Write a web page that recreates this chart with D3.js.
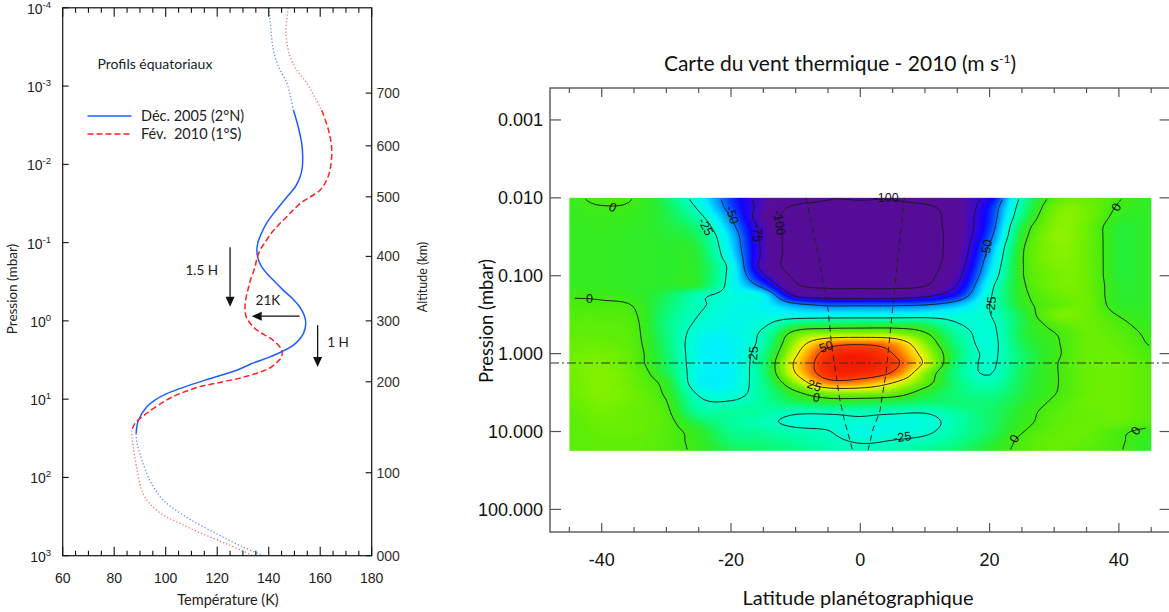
<!DOCTYPE html>
<html><head><meta charset="utf-8">
<script src="https://cdn.jsdelivr.net/npm/d3@7"></script>
<style>
html,body{margin:0;padding:0;background:#fff;}
svg{display:block;}
</style></head>
<body>
<svg id="chart" width="1169" height="612"></svg>
<script>
// ================= LEFT PANEL DATA =================
const tempTicks = [60, 80, 100, 120, 140, 160, 180];
const pressureDecadeExp = [-4, -3, -2, -1, 0, 1, 2, 3];
const altitudeLabels = ["000", "100", "200", "300", "400", "500", "600", "700"];
const altitudePressure = [1000, 87, 6.0, 1.0, 0.15, 0.026, 0.0058, 0.00123];

const profile2005Log10P = [-4.0,-3.67,-3.46,-3.25,-3.04,-2.85,-2.69,-2.5,-2.27,-2.1,-1.95,-1.84,-1.72,-1.63,-1.5,-1.37,-1.25,-1.12,-1.0,-0.9,-0.78,-0.69,-0.61,-0.5,-0.39,-0.28,-0.18,-0.07,0.03,0.16,0.31,0.46,0.55,0.63,0.76,0.93,1.02,1.10,1.27,1.44,1.55,1.70,2.04,2.29,2.51,2.72,2.89,3.0];
const profile2005T = [140.2,141.0,141.8,143.8,147.0,148.6,149.6,151.3,152.8,153.2,153.0,152.2,150.5,148.3,145.0,141.8,139.2,137.2,135.8,135.4,136.0,137.3,139.2,142.4,145.7,149.4,152.0,153.8,154.4,153.5,149.6,140.5,133.0,127.6,115.0,100.4,95.5,92.6,89.4,88.5,88.8,90.0,93.9,99.1,108.2,119.8,130.1,137.9];
const profile2005Observed = [-2.69, 1.44];

const profile2010Log10P = [-4.0,-3.67,-3.38,-3.2,-3.04,-2.85,-2.69,-2.44,-2.18,-1.93,-1.8,-1.67,-1.5,-1.33,-1.16,-1.0,-0.9,-0.78,-0.69,-0.52,-0.43,-0.31,-0.18,-0.06,0.04,0.12,0.25,0.37,0.46,0.52,0.59,0.65,0.72,0.78,0.84,0.93,1.01,1.18,1.31,1.40,1.50,1.61,1.87,2.21,2.42,2.63,2.85,3.0];
const profile2010T = [147.6,146.7,148.3,151.0,154.8,158.0,160.6,163.2,164.5,163.8,162.5,159.9,152.2,147.0,142.0,138.5,136.6,135.3,134.7,132.9,132.2,131.3,130.8,131.2,133.0,135.5,141.8,145.0,145.0,143.5,141.0,137.0,130.1,122.0,113.3,105.5,100.4,92.6,88.1,86.8,86.9,87.4,88.7,91.3,96.5,108.2,123.7,134.0];
const profile2010Observed = [-2.69, 1.40];

// annotations: [T, log10P] start -> end
const arrow15H = [[125, -0.94], [125, -0.18]];
const arrow21K = [[152, -0.06], [133.4, -0.06]];
const arrow1H = [[159, 0.055], [159, 0.59]];
const annotText = [["1.5 H", 114, -0.65], ["21K", 139.7, -0.265], ["1 H", 166.9, 0.27]];

// ================= RIGHT PANEL DATA =================
const latTickLabels = [-40, -20, 0, 20, 40];
const pressureTickValues = [0.001, 0.01, 0.1, 1, 10, 100];
const pressureTickLabels = ["0.001", "0.010", "0.100", "1.000", "10.000", "100.000"];
const contourLevels = [-100, -75, -50, -25, 0, 25, 50];

const fieldLat = [-45,-40,-35,-30,-25,-20,-15,-10,-5,0,5,10,15,20,25,30,35,40,45];
const fieldLog10P = [-2.0,-1.875,-1.75,-1.625,-1.5,-1.375,-1.25,-1.125,-1.0,-0.875,-0.75,-0.625,-0.5,-0.375,-0.25,-0.125,0,0.125,0.25,0.375,0.5,0.625,0.75,0.875,1.0,1.125,1.25];
const thermalWind = [
 [-2, 2, -0.3, -11, -32, -58, -82, -90, -99, -99, -99, -92, -85, -68, -21, 3.5, 6, 0.5, -3.5],
 [-2.5, -0.5, -1.5, -9, -27, -56, -82, -104, -105, -104, -105, -104, -89, -62, -18, 7, 8, -1, -4],
 [-3, -2, -3, -8, -21, -50, -86, -110, -108, -107, -108, -109, -88, -60, -14, 9, 8, -3, -4],
 [-3, -2.5, -3.5, -7, -15, -45, -81, -110, -108, -107, -108, -109, -89, -58, -8, 10, 7, -6, -4],
 [-3, -3, -4, -6, -11, -40, -80, -110, -108, -108, -108, -110, -89, -54, -5, 11, 7, -6, -4],
 [-3, -3, -4, -5, -8, -38, -79, -110, -108, -108, -108, -110, -88, -48, -2, 10, 7, -6, -4],
 [-3, -3, -4, -5, -7, -35, -79, -110, -108, -108, -108, -110, -87, -44, -1, 10, 7, -6, -4],
 [-3, -3, -4, -5, -6, -30, -82, -109, -108, -108, -108, -109, -84, -40, -1, 9, 7, -6, -4],
 [-3, -3, -4, -5, -6, -30, -72, -104, -106, -106, -106, -106, -80, -36, -1, 8, 7, -6, -4],
 [-3, -3, -4, -5, -7, -30, -56, -97, -104, -104, -104, -101, -74, -30, -2, 8, 7, -5, -4],
 [-0.5, -1, -3, -10, -22, -29, -35, -78, -85, -86, -86, -80, -62, -27, -3, 6, 7, -5, -4],
 [1, 1, -0.5, -12, -23, -30, -34, -46, -52, -52, -52, -50, -42, -25, -4, 4, 7, -4, -4],
 [3, 3, 1, -14, -25, -31, -31, -33, -33, -33, -33, -32, -30, -25.5, -8, 8, 7, -0.5, -4],
 [4, 4, 2, -15, -27, -31, -27, -12, -9, -8, -8, -10, -24, -27, -9, 3, 7, 2, -3],
 [5, 5, 2.5, -14, -30, -33, -22, 6, 13, 14, 13, 2, -18, -28, -8, -0.5, 6, 4, -1.5],
 [6, 6, 3, -13, -32, -34, -20, 15, 42, 48, 40, 11, -15, -28, -10, -1.5, 6, 5, -0.5],
 [7, 8, 4, -12, -32, -34, -16, 22, 58, 65, 50, 18, -12, -27, -12, -2, 6, 6, 1.5],
 [8, 9, 4, -11, -32, -34, -14, 28, 62, 68, 56, 22, -14, -26.5, -12, -1, 6, 7, 3],
 [8, 10, 6, -9, -32, -34, -14, 25, 60, 62, 48, 11, -16, -25.5, -10, -1, 6, 7, 4],
 [7, 10, 6, -4, -33, -33, -16, 12, 42, 40, 25, 5, -14, -22, -9, -1, 6, 7, 4],
 [7, 10, 7, -2, -27, -30, -18, -2, 10, 12, 8, -5, -14, -17, -8, -0.5, 6, 7, 4],
 [6, 9, 7, 0.5, -22, -24, -18, -10, -6, -7, -9, -12, -13, -13, -6, 1.5, 7, 7, 4],
 [5, 8, 6, 2, -18, -18, -19, -23, -23, -22, -23, -24, -18, -12, -4, 3.5, 6, 7, 4],
 [4, 7, 6, 3, -10, -18, -22, -28, -28, -27, -30, -29, -20, -12, -3, 4, 6, 6, 3],
 [4, 6, 6, 3, -4, -16, -18, -22, -24.5, -31, -29, -27, -19, -11, -0.5, 5, 6, 1.5, -2],
 [4, 5, 5, 3, -3, -13, -15, -18, -22, -26, -24.5, -22, -16, -8, 2, 6, 5, 1, -4],
 [4, 5, 5, 3, -2, -9, -12, -15, -20, -22, -21, -17, -12, -4, 2, 6, 4, 0.5, -4]
];

const windColorStops = [-110,-85,-75,-65,-55,-45,-36,-28,-20,-12,-5,0,8,16,25,35,45,55,68];
const windColors = ["#550c96","#560c9c","#3a08d8","#1004ff","#0050ff","#00a8ff","#00f0ff","#00ffd8","#00ffaa","#10f86c","#2ced2c","#42eb12","#72f000","#b4f600","#fff000","#ffb400","#ff6e00","#ff3800","#f41a00"];

const dashLeftLat = [-8.4,-6.6,-5.0,-4.5,-3.2,-2.5,-1.2];
const dashLeftLog10P = [-2.0,-1.3,-0.58,-0.15,0.58,0.84,1.24];
const dashRightLat = [6.8,5.9,5.0,4.0,3.0,2.0,1.2];
const dashRightLog10P = [-2.0,-1.3,-0.58,0.24,0.75,0.96,1.24];
const refPressure = 1.32;

const labelText = ["0","-25","-50","-75","-100","-100","-50","-25","0","0","-25","50","25","0","-25","0","0"];
const labelLat = [-38.3,-23.9,-19.8,-15.9,-12.5,4.0,19.5,20.2,39.6,-41.9,-16.6,-5.3,-7.1,-6.8,6.5,23.8,42.6];
const labelLog10P = [-1.88,-1.63,-1.78,-1.55,-1.68,-2.0,-1.35,-0.62,-1.88,-0.71,0.02,-0.09,0.41,0.56,1.07,1.09,0.99];
const labelAngle = [25,62,72,90,82,0,-80,-85,-60,0,-85,-20,20,10,-8,-60,-55];

// ================= DRAWING =================
const svg = d3.select("#chart");
svg.append("rect").attr("width",1169).attr("height",612).attr("fill","#fff");
const numFont = "'Liberation Sans', Arial, Helvetica, sans-serif";
const txtFont = "Lato, 'Open Sans', sans-serif";

// ---------- left panel ----------
const xT = d3.scaleLinear().domain([60,180]).range([62.7,371.7]);
const yP = d3.scaleLog().domain([1e-4,1e3]).range([7.8,555.7]);
const L = svg.append("g");

const lineP = d3.line().x(d=>xT(d.t)).y(d=>yP(d.p)).curve(d3.curveCatmullRom.alpha(0.5));
function pts(lp,T){ return lp.map((v,i)=>({lp:v,p:Math.pow(10,v),t:T[i]})); }
function drawProfile(lp,T,range,col,dotCol,dash){
  const P = pts(lp,T);
  const top = P.filter(d=>d.lp<=range[0]), mid = P.filter(d=>d.lp>=range[0]&&d.lp<=range[1]), bot = P.filter(d=>d.lp>=range[1]);
  [top,bot].forEach(seg=>L.append("path").attr("d",lineP(seg)).attr("fill","none").attr("stroke",dotCol).attr("stroke-width",1.3).attr("stroke-dasharray","1.2,2.2"));
  const m = L.append("path").attr("d",lineP(mid)).attr("fill","none").attr("stroke",col).attr("stroke-width",1.5);
  if(dash) m.attr("stroke-dasharray",dash);
}
drawProfile(profile2005Log10P,profile2005T,profile2005Observed,"#1d5cff","#5b88ff",null);
drawProfile(profile2010Log10P,profile2010T,profile2010Observed,"#ff2020","#ff6a6a","6,3");

L.append("rect").attr("x",62.7).attr("y",7.8).attr("width",309).attr("height",547.9)
 .attr("fill","none").attr("stroke","#111").attr("stroke-width",1.2);
d3.range(60,181,5).forEach(t=>{
  const len = t%20===0?9:5, x = xT(t);
  L.append("line").attr("x1",x).attr("x2",x).attr("y1",555.7).attr("y2",555.7-len).attr("stroke","#111").attr("stroke-width",1.1);
  L.append("line").attr("x1",x).attr("x2",x).attr("y1",7.8).attr("y2",7.8+len).attr("stroke","#111").attr("stroke-width",1.1);
});
tempTicks.forEach(t=>{
  L.append("text").attr("x",xT(t)).attr("y",583).attr("text-anchor","middle")
   .attr("font-family",numFont).attr("font-size",14).attr("fill","#222").text(t);
});
pressureDecadeExp.forEach(e=>{
  const y = yP(Math.pow(10,e));
  L.append("line").attr("x1",62.7).attr("x2",68.7).attr("y1",y).attr("y2",y).attr("stroke","#111").attr("stroke-width",1.1);
  const t = L.append("text").attr("x",51).attr("y",y+6).attr("text-anchor","end")
   .attr("font-family",numFont).attr("font-size",14).attr("fill","#222");
  t.append("tspan").text("10");
  t.append("tspan").attr("dy",-6).attr("font-size",9.5).text(e<0?"-"+(-e):String(e));
});
altitudeLabels.forEach((lab,i)=>{
  const y = yP(altitudePressure[i]);
  L.append("line").attr("x1",365.7).attr("x2",371.7).attr("y1",y).attr("y2",y).attr("stroke","#111").attr("stroke-width",1.1);
  L.append("text").attr("x",376.5).attr("y",y+5).attr("font-family",numFont).attr("font-size",14).attr("fill","#333").text(lab);
});
L.append("text").attr("transform","translate(17,289) rotate(-90)").attr("text-anchor","middle")
 .attr("font-family",txtFont).attr("font-size",13.5).attr("fill","#222").text("Pression (mbar)");
L.append("text").attr("transform","translate(427,277) rotate(-90)").attr("text-anchor","middle")
 .attr("font-family",txtFont).attr("font-size",12.5).attr("fill","#222").text("Altitude (km)");
L.append("text").attr("x",228).attr("y",605).attr("text-anchor","middle")
 .attr("font-family",txtFont).attr("font-size",14.5).attr("fill","#222").text("Température (K)");
// legend
L.append("text").attr("x",97.5).attr("y",68.5).attr("font-family",txtFont).attr("font-size",14).attr("fill","#222").text("Profils équatoriaux");
L.append("line").attr("x1",87.5).attr("x2",131.5).attr("y1",116).attr("y2",116).attr("stroke","#1d5cff").attr("stroke-width",1.4);
L.append("line").attr("x1",87.5).attr("x2",131.5).attr("y1",134).attr("y2",134).attr("stroke","#ff2020").attr("stroke-width",1.4).attr("stroke-dasharray","6,3");
L.append("text").attr("x",141).attr("y",121).attr("font-family",txtFont).attr("font-size",14.5).attr("fill","#222").text("Déc. 2005 (2°N)");
L.append("text").attr("x",141).attr("y",139).attr("font-family",txtFont).attr("font-size",14.5).attr("fill","#222").attr("xml:space","preserve").text("Fév.  2010 (1°S)");
// annotations
function arrow(a){
  const x1=xT(a[0][0]), y1=yP(Math.pow(10,a[0][1])), x2=xT(a[1][0]), y2=yP(Math.pow(10,a[1][1]));
  const ang=Math.atan2(y2-y1,x2-x1), hl=10, hw=4.5;
  const bx=x2-hl*Math.cos(ang), by=y2-hl*Math.sin(ang);
  L.append("line").attr("x1",x1).attr("y1",y1).attr("x2",bx).attr("y2",by).attr("stroke","#111").attr("stroke-width",1.3);
  const px=-Math.sin(ang)*hw, py=Math.cos(ang)*hw;
  L.append("path").attr("d",`M${x2},${y2}L${bx+px},${by+py}L${bx-px},${by-py}Z`).attr("fill","#111");
}
[arrow15H,arrow21K,arrow1H].forEach(arrow);
annotText.forEach(a=>{
  L.append("text").attr("x",xT(a[1])).attr("y",yP(Math.pow(10,a[2]))+4.5).attr("text-anchor","middle")
   .attr("font-family",txtFont).attr("font-size",13.5).attr("fill","#222").text(a[0]);
});

// ---------- right panel ----------
const X = d3.scaleLinear().domain([-48,48]).range([550,1170.6]);
const Y = d3.scaleLog().domain([Math.pow(10,-3.41),Math.pow(10,2.29)]).range([88,532]);
const R = svg.append("g");
const color = d3.scaleLinear().domain(windColorStops).range(windColors).interpolate(d3.interpolateRgb).clamp(true);

const nx = fieldLat.length, ny = fieldLog10P.length;
const dLat = fieldLat[1]-fieldLat[0], dLp = fieldLog10P[1]-fieldLog10P[0];
function cr(p0,p1,p2,p3,t){ return 0.5*((2*p1)+(-p0+p2)*t+(2*p0-5*p1+4*p2-p3)*t*t+(-p0+3*p1-3*p2+p3)*t*t*t); }
function sampleField(fx,fy){
  fx=Math.max(0,Math.min(nx-1,fx)); fy=Math.max(0,Math.min(ny-1,fy));
  const ix=Math.min(Math.floor(fx),nx-2), iy=Math.min(Math.floor(fy),ny-2);
  const tx=fx-ix, ty=fy-iy, col=[];
  for(let m=-1;m<=2;m++){
    const r=thermalWind[Math.max(0,Math.min(ny-1,iy+m))];
    const g=k=>r[Math.max(0,Math.min(nx-1,k))];
    col.push(cr(g(ix-1),g(ix),g(ix+1),g(ix+2),tx));
  }
  return cr(col[0],col[1],col[2],col[3],ty);
}
// fill raster
const fx0 = X(fieldLat[0]), fx1 = X(fieldLat[nx-1]);
const fy0 = Y(Math.pow(10,fieldLog10P[0])), fy1 = Y(Math.pow(10,fieldLog10P[ny-1]));
const W = Math.round(fx1-fx0), H = Math.round(fy1-fy0);
const cv = document.createElement("canvas"); cv.width=W; cv.height=H;
const ctx = cv.getContext("2d"); const img = ctx.createImageData(W,H);
for(let py=0;py<H;py++){
  const lp = Math.log10(Y.invert(fy0+py+0.5)); const fy=(lp-fieldLog10P[0])/dLp;
  for(let px=0;px<W;px++){
    const lat = X.invert(fx0+px+0.5); const fx=(lat-fieldLat[0])/dLat;
    const c = d3.rgb(color(sampleField(fx,fy)));
    const k=(py*W+px)*4; img.data[k]=c.r; img.data[k+1]=c.g; img.data[k+2]=c.b; img.data[k+3]=255;
  }
}
ctx.putImageData(img,0,0);
R.append("image").attr("x",fx0).attr("y",fy0).attr("width",W).attr("height",H)
 .attr("preserveAspectRatio","none").attr("href",cv.toDataURL());

// contour lines
const F=6, NX=(nx-1)*F+1, NY=(ny-1)*F+1, V=new Float64Array(NX*NY);
for(let j=0;j<NY;j++) for(let i=0;i<NX;i++) V[j*NX+i]=sampleField(i/F,j/F);
const contours = d3.contours().size([NX,NY]).thresholds(contourLevels)(V);
const cLine = d3.line().x(d=>X(fieldLat[0]+(d[0]-0.5)/F*dLat)).y(d=>Y(Math.pow(10,fieldLog10P[0]+(d[1]-0.5)/F*dLp)));
const onB = p=> p[0]<=0.5||p[0]>=NX-0.5||p[1]<=0.5||p[1]>=NY-0.5;
contours.forEach(c=>{
  c.coordinates.forEach(poly=>poly.forEach(ring=>{
    let pts=ring.slice(0,-1);
    const bi = pts.findIndex(onB);
    if(bi<0){ R.append("path").attr("d",cLine(ring)).attr("fill","none").attr("stroke","#1a1a1a").attr("stroke-width",0.95); return; }
    pts = pts.slice(bi).concat(pts.slice(0,bi)); pts.push(pts[0]);
    let run=[];
    const flush=()=>{ if(run.length>1) R.append("path").attr("d",cLine(run)).attr("fill","none").attr("stroke","#1a1a1a").attr("stroke-width",0.95); run=[]; };
    pts.forEach(p=>{ if(onB(p)) flush(); else run.push(p); });
    flush();
  }));
});

// dashed lines
const dLine = d3.line().x(d=>X(d[0])).y(d=>Y(Math.pow(10,d[1])));
[[dashLeftLat,dashLeftLog10P],[dashRightLat,dashRightLog10P]].forEach(([la,lp])=>{
  R.append("path").attr("d",dLine(la.map((v,i)=>[v,lp[i]]))).attr("fill","none").attr("stroke","#222").attr("stroke-width",1).attr("stroke-dasharray","6,4");
});
R.append("line").attr("x1",550).attr("x2",1170.6).attr("y1",Y(refPressure)).attr("y2",Y(refPressure))
 .attr("stroke","#333").attr("stroke-width",1.1).attr("stroke-dasharray","9,3,2,3");

// contour labels
labelText.forEach((t,i)=>{
  const x=X(labelLat[i]), y=Y(Math.pow(10,labelLog10P[i]));
  R.append("text").attr("transform",`translate(${x},${y}) rotate(${labelAngle[i]})`).attr("text-anchor","middle").attr("dy","0.35em")
   .attr("font-family",numFont).attr("font-size",12.5).attr("fill","#111").text(t);
});

// frame + ticks
R.append("rect").attr("x",550).attr("y",88).attr("width",620.6).attr("height",444).attr("fill","none").attr("stroke","#555").attr("stroke-width",1.4);
d3.range(-45,46,5).forEach(l=>{
  const len = l%20===0?9:5, x=X(l);
  R.append("line").attr("x1",x).attr("x2",x).attr("y1",532).attr("y2",532-len).attr("stroke","#555").attr("stroke-width",1.2);
  R.append("line").attr("x1",x).attr("x2",x).attr("y1",88).attr("y2",88+len).attr("stroke","#555").attr("stroke-width",1.2);
});
pressureTickValues.forEach((p,i)=>{
  const y=Y(p);
  R.append("line").attr("x1",550).attr("x2",561).attr("y1",y).attr("y2",y).attr("stroke","#555").attr("stroke-width",1.2);
  R.append("line").attr("x1",1159.6).attr("x2",1170.6).attr("y1",y).attr("y2",y).attr("stroke","#555").attr("stroke-width",1.2);
  R.append("text").attr("x",543).attr("y",y+6.5).attr("text-anchor","end").attr("font-family",numFont).attr("font-size",18).attr("fill","#111").text(pressureTickLabels[i]);
});
latTickLabels.forEach(l=>{
  R.append("text").attr("x",X(l)).attr("y",566).attr("text-anchor","middle").attr("font-family",numFont).attr("font-size",18).attr("fill","#111").text(l);
});
const title = R.append("text").attr("x",840).attr("y",71).attr("text-anchor","middle").attr("font-family",txtFont).attr("font-size",21).attr("fill","#111");
title.append("tspan").text("Carte du vent thermique - 2010 (m s");
title.append("tspan").attr("dy",-8).attr("font-size",12).text("-1");
title.append("tspan").attr("dy",8).text(")");
R.append("text").attr("transform","translate(493,321) rotate(-90)").attr("text-anchor","middle").attr("font-family",txtFont).attr("font-size",18.5).attr("fill","#111").text("Pression (mbar)");
R.append("text").attr("x",858).attr("y",605).attr("text-anchor","middle").attr("font-family",txtFont).attr("font-size",20).attr("fill","#111").text("Latitude planétographique");
</script>
</body></html>
